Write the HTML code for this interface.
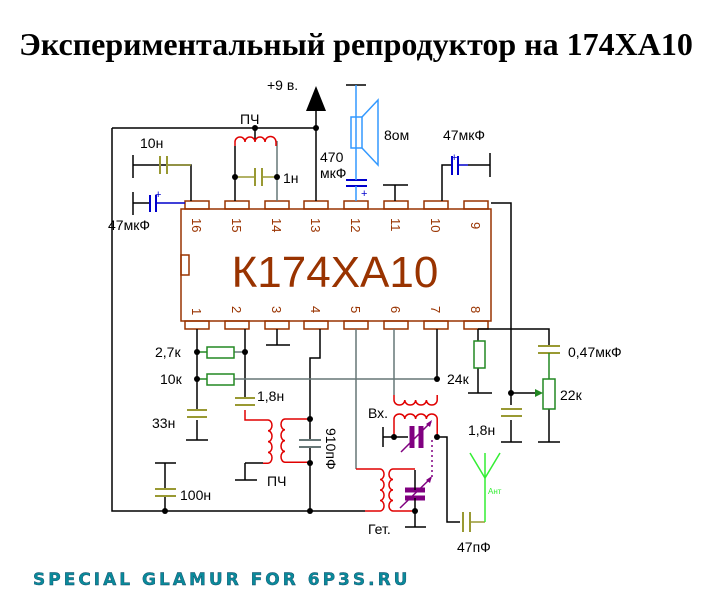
<!DOCTYPE html>
<html><head><meta charset="utf-8"><style>
html,body{margin:0;padding:0;background:#fff;width:716px;height:612px;overflow:hidden}
svg{display:block}
text{font-family:"Liberation Sans",sans-serif}
</style></head><body>
<svg width="716" height="612" viewBox="0 0 716 612" xmlns="http://www.w3.org/2000/svg">
<text x="356" y="55" text-anchor="middle" style="font-family:'Liberation Serif',serif;font-weight:bold;font-size:32px" fill="#000">Экспериментальный репродуктор на 174ХА10</text>
<text x="33" y="585" style="font-family:'DejaVu Sans',sans-serif;font-weight:bold;font-size:17px;letter-spacing:3px" fill="#0a8a9a" stroke="#114466" stroke-width="0.4">SPECIAL GLAMUR FOR 6P3S.RU</text>

<g fill="none" stroke-width="1.5">
<!-- IC -->
<rect x="181" y="209" width="310" height="112" stroke="#993300"/>
<rect x="181" y="255" width="8" height="20" stroke="#993300"/>
<g stroke="#993300">
<rect x="185" y="201" width="24" height="8"/><rect x="225" y="201" width="24" height="8"/><rect x="265" y="201" width="24" height="8"/><rect x="304" y="201" width="24" height="8"/><rect x="344" y="201" width="24" height="8"/><rect x="384" y="201" width="24" height="8"/><rect x="424" y="201" width="24" height="8"/><rect x="464" y="201" width="24" height="8"/>
<rect x="185" y="321" width="24" height="8"/><rect x="225" y="321" width="24" height="8"/><rect x="265" y="321" width="24" height="8"/><rect x="304" y="321" width="24" height="8"/><rect x="344" y="321" width="24" height="8"/><rect x="384" y="321" width="24" height="8"/><rect x="424" y="321" width="24" height="8"/><rect x="464" y="321" width="24" height="8"/>
</g>
<!-- black wires -->
<g stroke="#000">
<polyline points="112,128 112,511 365,511"/>
<line x1="112" y1="128" x2="316" y2="128"/>
<line x1="316" y1="108" x2="316" y2="201"/>
<line x1="255" y1="128" x2="255" y2="141"/>
<polyline points="133,165 191,165 191,201"/>
<line x1="133" y1="155" x2="133" y2="178"/>
<line x1="133" y1="192" x2="133" y2="215"/>
<line x1="133" y1="203" x2="150" y2="203"/>
<polyline points="235,146 235,201"/>
<line x1="395" y1="185" x2="395" y2="201"/><line x1="383" y1="185" x2="408" y2="185"/>
<polyline points="442,201 442,165 452,165"/>
<line x1="468" y1="165" x2="490" y2="165"/><line x1="490" y1="153" x2="490" y2="177"/>
<line x1="346" y1="85" x2="366" y2="85"/>
<polyline points="491,203 511,203 511,405" stroke="#000"/>
<line x1="511" y1="420" x2="511" y2="442"/><line x1="501" y1="442" x2="522" y2="442"/>
<line x1="511" y1="393" x2="538" y2="393"/>
<polyline points="478,329 549,329 549,346"/>
<line x1="478" y1="329" x2="478" y2="341"/>
<line x1="478" y1="368" x2="478" y2="393"/><line x1="468" y1="393" x2="492" y2="393"/>
<line x1="549" y1="409" x2="549" y2="442"/><line x1="538" y1="442" x2="560" y2="442"/>
<line x1="197" y1="329" x2="197" y2="410"/>
<line x1="197" y1="420" x2="197" y2="440"/><line x1="186" y1="440" x2="208" y2="440"/>
<line x1="245" y1="329" x2="245" y2="397"/>
<line x1="277" y1="329" x2="277" y2="345"/><line x1="266" y1="345" x2="290" y2="345"/>
<polyline points="320,329 320,358 310,358 310,440"/>
<line x1="310" y1="448" x2="310" y2="511"/>
<line x1="437" y1="329" x2="437" y2="379"/>
<line x1="263" y1="463" x2="245" y2="463"/><line x1="245" y1="463" x2="245" y2="480"/><line x1="235" y1="480" x2="257" y2="480"/>
<line x1="165" y1="463" x2="165" y2="488"/><line x1="155" y1="463" x2="176" y2="463"/>
<line x1="165" y1="497" x2="165" y2="511"/>
<line x1="415" y1="511" x2="415" y2="527"/><line x1="405" y1="527" x2="426" y2="527"/>
<line x1="383" y1="427" x2="383" y2="447"/><line x1="383" y1="437" x2="408" y2="437"/>
<polyline points="437,437 447,437 447,522 460,522"/>
</g>
<g stroke="#667777">
<line x1="277" y1="141" x2="277" y2="201"/>
<line x1="356" y1="329" x2="356" y2="469"/>
<line x1="394" y1="329" x2="394" y2="395"/>
<line x1="234" y1="379" x2="437" y2="379"/>
<line x1="234" y1="352" x2="245" y2="352"/>
</g>
<g stroke="#e00000">
<path d="M235,146 v-4 a5,5 0 0 1 10,0 a5,5 0 0 1 10,0 a5,5 0 0 1 10,0 a5,5 0 0 1 11,0 v4"/>
<polyline points="245,410 245,420 268,420"/>
<path d="M268,420 a4,5.4 0 0 1 0,10.8 a4,5.4 0 0 1 0,10.8 a4,5.4 0 0 1 0,10.8 a4,5.4 0 0 1 0,10.8 h-5"/>
<path d="M310,419 h-25 a4,5.4 0 0 0 0,10.8 a4,5.4 0 0 0 0,10.8 a4,5.4 0 0 0 0,10.8 a4,5.4 0 0 0 0,10.8 h25"/>
<path d="M356,469 h24 a4,5.2 0 0 1 0,10.5 a4,5.2 0 0 1 0,10.5 a4,5.2 0 0 1 0,10.5 a4,5.2 0 0 1 0,10.5 h-15"/>
<path d="M415,469 h-22 a4,5.2 0 0 0 0,10.5 a4,5.2 0 0 0 0,10.5 a4,5.2 0 0 0 0,10.5 a4,5.2 0 0 0 0,10.5 h22"/>
<path d="M394,395 v5 a5.4,5 0 0 0 10.8,0 a5.4,5 0 0 0 10.8,0 a5.4,5 0 0 0 10.8,0 a5.4,5 0 0 0 10.8,0 v-5"/>
<path d="M394,437 v-18 a5.4,5 0 0 1 10.8,0 a5.4,5 0 0 1 10.8,0 a5.4,5 0 0 1 10.8,0 a5.4,5 0 0 1 10.8,0 v18"/>
</g>
<g stroke="#999933" stroke-width="2">
<line x1="160" y1="156" x2="160" y2="174"/><line x1="167" y1="156" x2="167" y2="174"/>
<line x1="255" y1="168" x2="255" y2="186"/><line x1="262" y1="168" x2="262" y2="186"/>
<line x1="187" y1="410" x2="207" y2="410"/><line x1="187" y1="417" x2="207" y2="417"/>
<line x1="235" y1="398" x2="255" y2="398"/><line x1="235" y1="405" x2="255" y2="405"/>
<line x1="155" y1="489" x2="176" y2="489"/><line x1="155" y1="496" x2="176" y2="496"/>
<line x1="538" y1="346" x2="560" y2="346"/><line x1="538" y1="353" x2="560" y2="353"/>
<line x1="501" y1="409" x2="522" y2="409"/><line x1="501" y1="416" x2="522" y2="416"/>
<line x1="463" y1="512" x2="463" y2="532"/><line x1="470" y1="512" x2="470" y2="532"/>
</g>
<g stroke="#999933"><line x1="167" y1="165" x2="191" y2="165"/><line x1="235" y1="177" x2="255" y2="177"/><line x1="262" y1="177" x2="277" y2="177"/>
<line x1="470" y1="522" x2="485" y2="522"/></g>
<g stroke="#667777" stroke-width="2"><line x1="299" y1="440" x2="321" y2="440"/><line x1="299" y1="447" x2="321" y2="447"/></g>
<g stroke="#0000cc" stroke-width="2">
<line x1="150" y1="195" x2="150" y2="212"/><line x1="156" y1="195" x2="156" y2="212"/>
<line x1="452" y1="156" x2="452" y2="175"/><line x1="458" y1="156" x2="458" y2="175"/>
<line x1="346" y1="180" x2="367" y2="180"/><line x1="346" y1="186" x2="367" y2="186"/>
</g>
<g stroke="#0000cc"><line x1="156" y1="203" x2="185" y2="203"/><line x1="458" y1="165" x2="468" y2="165"/></g>
<g stroke="#3399ff"><line x1="356" y1="85" x2="356" y2="180"/><line x1="356" y1="186" x2="356" y2="201"/>
<rect x="351" y="117" width="11" height="31"/><polyline points="362,117 378,100 378,165 362,148"/></g>
<g stroke="#228822">
<rect x="207" y="347" width="27" height="11"/><rect x="207" y="374" width="27" height="11"/>
<line x1="197" y1="352" x2="207" y2="352"/><line x1="197" y1="379" x2="207" y2="379"/>
<rect x="474" y="341" width="11" height="27"/>
<rect x="543" y="379" width="12" height="30"/>
<line x1="549" y1="353" x2="549" y2="379"/>
</g>
<polygon points="543,393 535,389 535,397" fill="#228822" stroke="none"/>
<g stroke="#33ee33"><polyline points="485,522 485,478"/><polyline points="470,453 485,478 500,453"/><line x1="485" y1="453" x2="485" y2="478"/></g>
<g stroke="#800080">
<line x1="412" y1="426" x2="412" y2="448" stroke-width="5"/><line x1="421" y1="426" x2="421" y2="448" stroke-width="5"/>
<line x1="401" y1="452" x2="431" y2="422"/>
<line x1="405" y1="490" x2="425" y2="490" stroke-width="5"/><line x1="405" y1="498" x2="425" y2="498" stroke-width="5"/>
<line x1="400" y1="508" x2="431" y2="478"/>
<line x1="432" y1="440" x2="432" y2="477" stroke-dasharray="2,3"/>
<line x1="415" y1="470" x2="415" y2="490" stroke="#000"/>
<line x1="415" y1="498" x2="415" y2="511" stroke="#000"/>
</g>
<polygon points="432,420 426,424 430,427" fill="#800080"/>
<polygon points="432,476 426,480 430,483" fill="#800080"/>
</g>
<polygon points="316,86 306,111 326,111" fill="#000"/>
<g fill="#000">
<circle cx="255" cy="128" r="3"/><circle cx="316" cy="128" r="3"/>
<circle cx="235" cy="177" r="3"/><circle cx="277" cy="177" r="3"/>
<circle cx="197" cy="352" r="3"/><circle cx="245" cy="352" r="3"/><circle cx="197" cy="379" r="3"/><circle cx="437" cy="379" r="3"/>
<circle cx="310" cy="419" r="3"/><circle cx="310" cy="463" r="3"/><circle cx="310" cy="511" r="3"/><circle cx="165" cy="511" r="3"/>
<circle cx="415" cy="511" r="3"/><circle cx="394" cy="437" r="3"/><circle cx="437" cy="437" r="3"/><circle cx="511" cy="393" r="3"/>
</g>
<text x="335" y="287" text-anchor="middle" font-size="44" fill="#993300">К174ХА10</text>
<g font-size="13" fill="#993300">
<text transform="translate(192,218) rotate(90)">16</text><text transform="translate(232,218) rotate(90)">15</text><text transform="translate(272,218) rotate(90)">14</text><text transform="translate(311,218) rotate(90)">13</text><text transform="translate(351,218) rotate(90)">12</text><text transform="translate(391,218) rotate(90)">11</text><text transform="translate(431,218) rotate(90)">10</text><text transform="translate(471,222) rotate(90)">9</text>
<text transform="translate(192,308) rotate(90)">1</text><text transform="translate(232,306) rotate(90)">2</text><text transform="translate(272,306) rotate(90)">3</text><text transform="translate(311,306) rotate(90)">4</text><text transform="translate(351,306) rotate(90)">5</text><text transform="translate(391,306) rotate(90)">6</text><text transform="translate(431,306) rotate(90)">7</text><text transform="translate(471,306) rotate(90)">8</text>
</g>
<g font-size="14" fill="#000">
<text x="267" y="90">+9 в.</text>
<text x="240" y="124">ПЧ</text>
<text x="140" y="148">10н</text>
<text x="283" y="183">1н</text>
<text x="108" y="230">47мкФ</text>
<text x="320" y="162">470</text><text x="320" y="178">мкФ</text>
<text x="384" y="140">8ом</text>
<text x="443" y="140">47мкФ</text>
<text x="155" y="357">2,7к</text>
<text x="160" y="384">10к</text>
<text x="152" y="428">33н</text>
<text x="257" y="401">1,8н</text>
<text x="180" y="500">100н</text>
<text x="267" y="486">ПЧ</text>
<text transform="translate(326,428) rotate(90)">910пФ</text>
<text x="368" y="418">Вх.</text>
<text x="368" y="534">Гет.</text>
<text x="457" y="552">47пФ</text>
<text x="447" y="384">24к</text>
<text x="468" y="435">1,8н</text>
<text x="568" y="357">0,47мкФ</text>
<text x="560" y="400">22к</text>
</g>
<text x="488" y="494" font-size="8" fill="#33ee33">Ант</text>
<g font-size="11" fill="#0000cc"><text x="155" y="198">+</text><text x="451" y="161">+</text><text x="361" y="197">+</text></g>
</svg>
</body></html>
